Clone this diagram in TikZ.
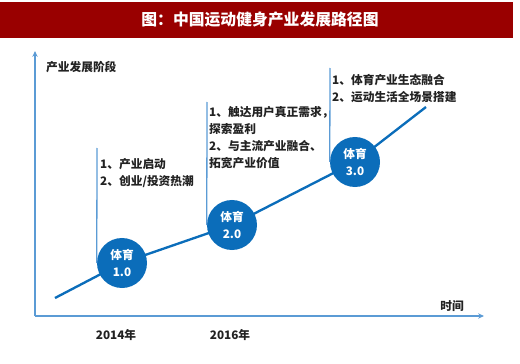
\documentclass[tikz,border=0pt]{standalone}
\usepackage{fontspec}
\setmainfont{Noto Sans CJK SC}
\usetikzlibrary{arrows.meta}
\usetikzlibrary{backgrounds}
\usetikzlibrary{positioning}
\definecolor{sptitle}{HTML}{990000}
\definecolor{spblue}{HTML}{0B6DBA}
\definecolor{spaxis}{HTML}{5B9BD5}
\definecolor{spink}{HTML}{222222}
\tikzset{
  spstage/.style={
    circle, fill=spblue, minimum size=1.5cm,
    inner sep=0pt, align=center, text=white,
    font=\bfseries\fontsize{10}{14}\selectfont},
  spaxisline/.style={-{Stealth[length=5pt, width=4.5pt]}, draw=spaxis,
    line width=1.8pt},
  spguide/.style={draw=spaxis, line width=1.1pt},
  sptrend/.style={draw=spblue, line width=2pt},
  spnote/.style={anchor=north west, align=left, inner sep=0pt, text=spink,
    font=\bfseries\fontsize{10}{14.5}\selectfont},
  splabel/.style={text=spink, font=\bfseries\fontsize{10}{12}\selectfont},
}

\begin{document}
\begin{tikzpicture}[x=0.03cm, y=-0.03cm]
\useasboundingbox (0, 0) rectangle (520, 364);

% Header.
\fill[sptitle] (0, 2) rectangle (513, 38);
\node[text=white, font=\bfseries\fontsize{13.5}{16}\selectfont] (title)
  at (260, 20) {图：中国运动健身产业发展路径图};

% Axes.
\coordinate (origin) at (35, 316);
\coordinate (ytop) at (35, 51);
\coordinate (xend) at (484, 316);
\draw[spaxisline] (origin) -- (ytop);
\draw[spaxisline] (origin) -- (xend);
\node[splabel, anchor=west] (ylabel) at (42, 67) {产业发展阶段};
\node[splabel] (xlabel) at (452, 306) {时间};
\node[splabel] (year1) at (116, 335) {2014年};
\node[splabel] (year2) at (230, 335) {2016年};

% Stages.
\node[spstage] (stage1) at (122, 263) {体育\\1.0};
\node[spstage] (stage2) at (232, 225) {体育\\2.0};
\node[spstage] (stage3) at (355, 162) {体育\\3.0};

% Trend line runs behind the circles.
\coordinate (start) at (55, 298);
\coordinate (finish) at (426, 107);
\begin{scope}[on background layer]
\draw[sptrend] (start) -- (stage1.center) -- (stage2.center)
  -- (stage3.center) -- (finish);
\end{scope}

% Callouts.
\coordinate (mark1) at (97, 148);
\coordinate (mark2) at (207, 102);
\coordinate (mark3) at (330, 68);
\draw[spguide] (mark1) -- (stage1.west);
\draw[spguide] (mark2) -- (stage2.west);
\draw[spguide] (mark3) -- (stage3.west);
\node[spnote] (note1) at (100, 158) {1、产业启动\\2、创业/投资热潮};
\node[spnote] (note2) at (209, 106)
  {1、触达用户真正需求，\\探索盈利\\2、与主流产业融合、\\拓宽产业价值};
\node[spnote] (note3) at (332, 74) {1、体育产业生态融合\\2、运动生活全场景搭建};

\end{tikzpicture}
\end{document}
